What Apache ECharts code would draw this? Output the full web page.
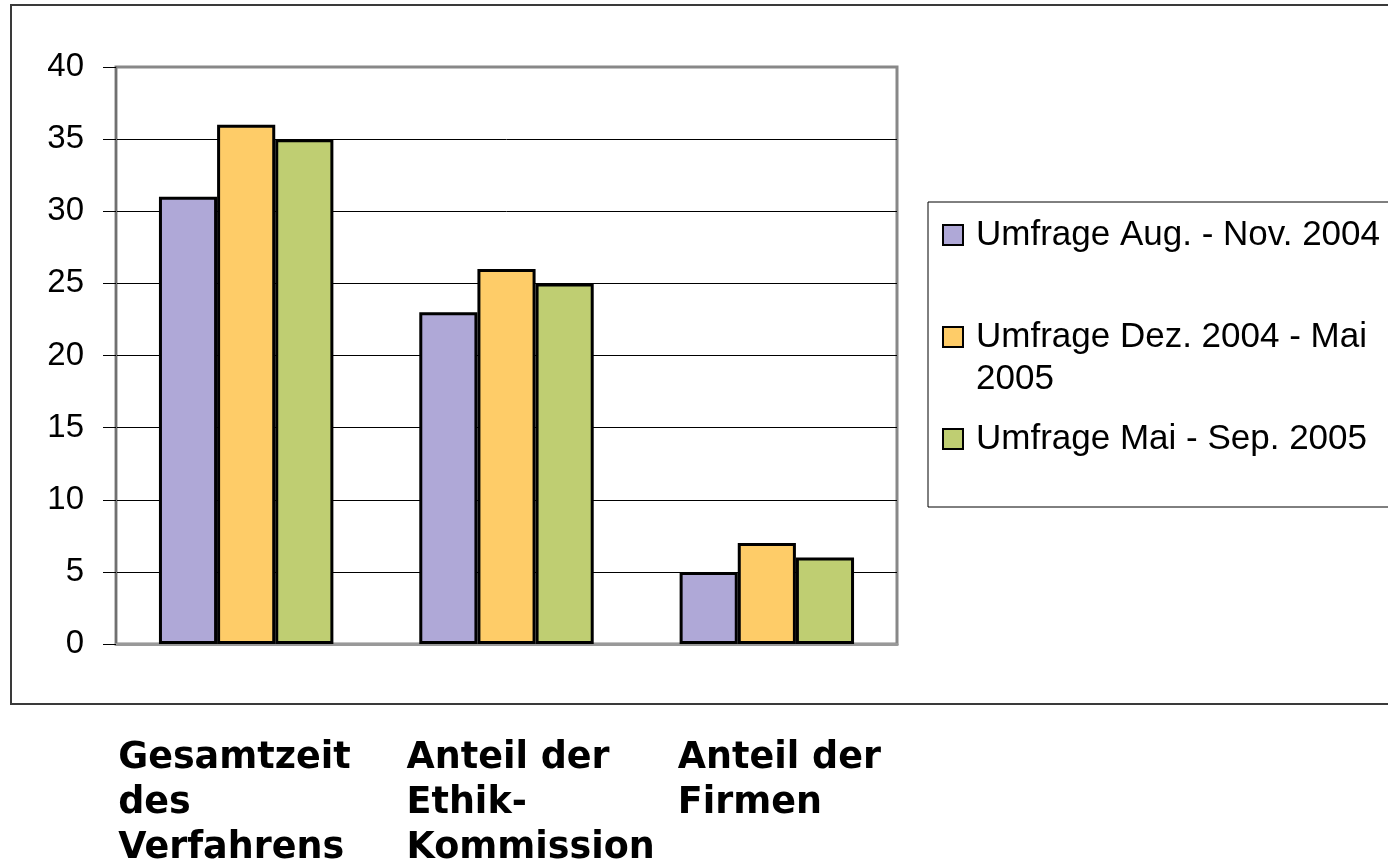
<!DOCTYPE html>
<html>
<head>
<meta charset="utf-8">
<script src="https://cdn.jsdelivr.net/npm/echarts@6/dist/echarts.min.js"></script>
<style>
  html, body { margin: 0; padding: 0; background: #ffffff; }
  #chart { width: 1388px; height: 860px; }
</style>
</head>
<body>
<div id="chart"></div>
<script>
// Categories (wrapped the way they are printed under the axis)
const categories = [
  'Gesamtzeit\ndes\nVerfahrens',
  'Anteil der\nEthik-\nKommission',
  'Anteil der\nFirmen'
];

// Survey rounds
const seriesNames = [
  'Umfrage Aug. - Nov. 2004',
  'Umfrage Dez. 2004 - Mai 2005',
  'Umfrage Mai - Sep. 2005'
];

// Values per survey round, one entry per category
const valuesAugNov2004 = [31, 23, 5];
const valuesDez2004Mai2005 = [36, 26, 7];
const valuesMaiSep2005 = [35, 25, 6];

// Y axis ticks
const yMin = 0;
const yMax = 40;
const yStep = 5;

const seriesValues = [valuesAugNov2004, valuesDez2004Mai2005, valuesMaiSep2005];
const seriesColors = ['#afa8d7', '#fecc68', '#bfce72'];

// Horizontal shift of each category label block (left aligned text)
const labelShift = [-128, -100, -89];

const chart = echarts.init(document.getElementById('chart'), null, { renderer: 'canvas' });

const option = {
  backgroundColor: '#ffffff',
  animation: false,
  graphic: [
    {
      type: 'rect',
      z: -10,
      shape: { x: 11, y: 5, width: 1400, height: 699 },
      style: { fill: 'none', stroke: '#3a3a3a', lineWidth: 2 },
      silent: true
    }
  ],
  grid: {
    left: 116,
    right: 491,
    top: 67,
    bottom: 216,
    outerBoundsMode: 'none',
    containLabel: false,
    show: true,
    borderColor: '#888888',
    borderWidth: 3,
    backgroundColor: 'transparent'
  },
  legend: {
    orient: 'vertical',
    left: 928,
    top: 202,
    padding: [12, 30, 47, 14],
    itemGap: 18,
    itemWidth: 20,
    itemHeight: 20,
    icon: 'rect',
    backgroundColor: '#ffffff',
    borderColor: '#000000',
    borderWidth: 1,
    selectedMode: false,
    itemStyle: { borderColor: '#000000', borderWidth: 2 },
    // a wrapped entry keeps its first line next to the swatch
    formatter: function (name) {
      return name === seriesNames[1] ? '\n' + name : name;
    },
    textStyle: {
      fontFamily: '"Liberation Sans", Arial, sans-serif',
      fontSize: 35,
      lineHeight: 42,
      color: '#000000',
      width: 420,
      overflow: 'break',
      padding: [0, 0, 0, 8]
    },
    data: seriesNames
  },
  xAxis: {
    type: 'category',
    data: categories.map(function (c, i) {
      return {
        value: c,
        textStyle: { align: 'left', padding: [0, 0, 0, labelShift[i]] }
      };
    }),
    axisLine: { show: true, lineStyle: { color: '#999999', width: 3 } },
    axisTick: { show: false },
    splitLine: { show: false },
    axisLabel: {
      interval: 0,
      margin: 92,
      align: 'left',
      verticalAlign: 'top',
      fontFamily: '"DejaVu Sans", Verdana, sans-serif',
      fontWeight: 'bold',
      fontSize: 36.5,
      lineHeight: 45,
      color: '#000000'
    }
  },
  yAxis: {
    type: 'value',
    min: yMin,
    max: yMax,
    interval: yStep,
    axisLine: { show: true, lineStyle: { color: '#707070', width: 2 } },
    axisTick: { show: true, length: 13, lineStyle: { color: '#000000', width: 1 } },
    splitLine: {
      show: true,
      showMinLine: false,
      showMaxLine: false,
      lineStyle: { color: '#000000', width: 1 }
    },
    axisLabel: {
      margin: 32,
      fontFamily: '"Liberation Sans", Arial, sans-serif',
      fontSize: 33,
      color: '#000000'
    }
  },
  series: seriesNames.map(function (name, i) {
    return {
      name: name,
      type: 'bar',
      data: seriesValues[i],
      barGap: '0%',
      barCategoryGap: '33%',
      itemStyle: {
        color: seriesColors[i],
        borderColor: '#000000',
        borderWidth: 3
      },
      emphasis: { disabled: true }
    };
  })
};

chart.setOption(option);
</script>
</body>
</html>
